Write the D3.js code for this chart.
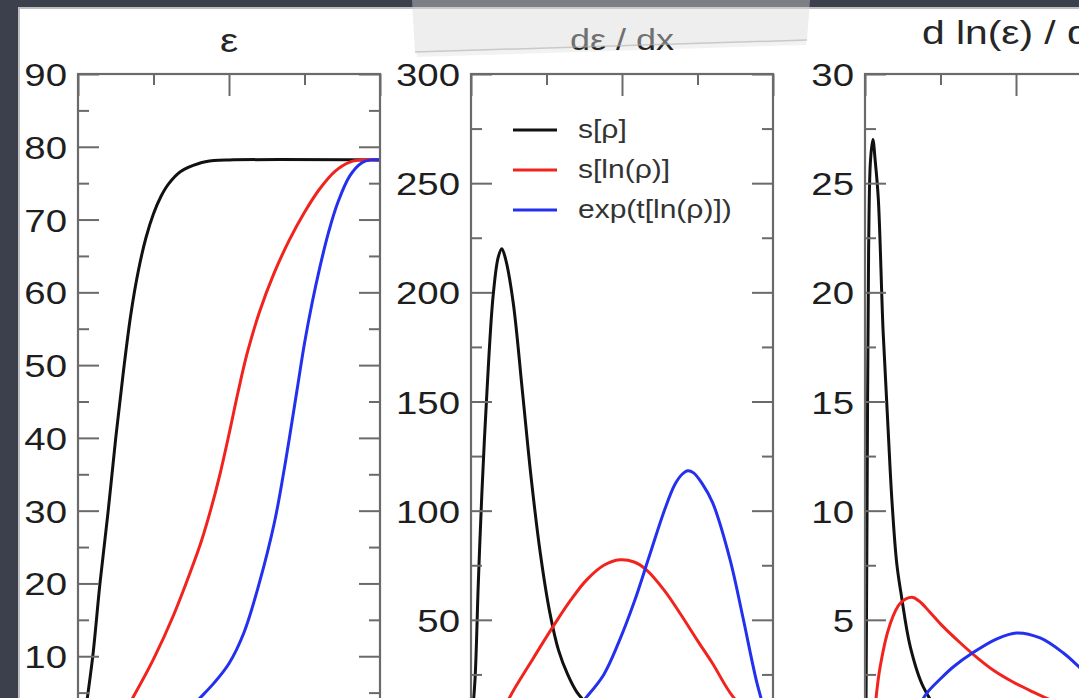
<!DOCTYPE html>
<html><head><meta charset="utf-8">
<script src="https://cdn.jsdelivr.net/npm/d3@7"></script>
<style>html,body{margin:0;padding:0;background:#3c404c;overflow:hidden}</style>
</head><body><svg id="c" width="1079" height="698"></svg>
<script>
// ---------- data ----------
const panelTitles = ["ε", "dε / dx", "d ln(ε) / dx"];
const yDomains = [[0, 90], [0, 300], [0, 30]];
const yMajorTicks = [[10,20,30,40,50,60,70,80,90],[50,100,150,200,250,300],[5,10,15,20,25,30]];
const yMinorTicks = [[5,15,25,35,45,55,65,75,85],[25,75,125,175,225,275],[2.5,7.5,12.5,17.5,22.5,27.5]];
const yTickLabels = [["10","20","30","40","50","60","70","80","90"],["50","100","150","200","250","300"],["5","10","15","20","25","30"]];
const xMajorTicks = [0, 0.5, 1];
const xMinorTicks = [0.25, 0.75];
const seriesNames = ["s[ρ]", "s[ln(ρ)]", "exp(t[ln(ρ)])"];
const seriesColors = ["#111111", "#f2231d", "#2330ee"];

// panel 1: ε
const eps_s = [[0.02,1],[0.033,4.9],[0.05,10.4],[0.073,20.1],[0.1,30],[0.125,40],[0.15,49],[0.175,57],[0.2,63],[0.225,67.5],[0.25,70.8],[0.275,73.2],[0.3,74.9],[0.34,76.6],[0.4,77.7],[0.45,78.1],[0.5,78.2],[1.0,78.2]];
const eps_sln = [[0.15,2],[0.183,4.4],[0.25,9.6],[0.317,15.7],[0.383,22.8],[0.41,26],[0.44,30.2],[0.47,35],[0.5,40.5],[0.53,46.3],[0.56,51.6],[0.6,57.2],[0.65,62.7],[0.7,67.2],[0.75,71],[0.8,74.2],[0.85,76.6],[0.9,77.9],[0.94,78.2],[1.0,78.2]];
const eps_exp = [[0.35,2],[0.407,4.4],[0.45,6.3],[0.5,9],[0.55,13.3],[0.6,20],[0.65,28.3],[0.68,35],[0.7,40],[0.725,46.5],[0.75,53],[0.775,58.5],[0.8,63.3],[0.83,68.3],[0.86,72.3],[0.9,76],[0.94,77.8],[0.97,78.2],[1.0,78.2]];
// panel 2: dε/dx
const deps_s = [[0,0],[0.013,22],[0.024,66],[0.036,108],[0.053,155],[0.073,198],[0.09,216],[0.102,220],[0.115,215],[0.14,195],[0.17,155],[0.2,114],[0.23,80],[0.26,54],[0.29,36],[0.32,25],[0.35,17],[0.38,12],[0.42,6],[0.5,2]];
const deps_sln = [[0.1,5],[0.129,14.7],[0.2,31],[0.272,47],[0.33,59],[0.383,68.3],[0.44,75],[0.493,77.5],[0.54,76.5],[0.58,73],[0.64,63.5],[0.692,53],[0.75,40.5],[0.8,30],[0.868,14.7],[0.95,4]];
const deps_exp = [[0.3,2],[0.383,14.7],[0.44,25],[0.49,40],[0.54,58],[0.59,79],[0.64,100],[0.675,112],[0.7,116.8],[0.718,118.3],[0.737,117.3],[0.765,112.5],[0.8,103.7],[0.858,77.5],[0.9,51.4],[0.947,21],[0.98,5]];
// panel 3: d ln(ε)/dx
const dln_s = [[0.003,0],[0.007,10.5],[0.012,22],[0.018,26],[0.026,27],[0.034,26],[0.044,24.3],[0.06,18.2],[0.077,13.6],[0.089,10.5],[0.105,7.6],[0.121,6.06],[0.15,3.76],[0.193,1.93],[0.25,0.8],[0.35,0.3]];
const dln_sln = [[0.03,0.5],[0.05,2.84],[0.083,4.8],[0.116,5.75],[0.155,6.03],[0.18,5.85],[0.215,5.35],[0.258,4.7],[0.315,3.95],[0.37,3.28],[0.424,2.7],[0.49,2.15],[0.556,1.7],[0.62,1.3],[0.7,0.9]];
const dln_exp = [[0.17,0.8],[0.204,1.63],[0.25,2.3],[0.292,2.84],[0.358,3.5],[0.435,4.12],[0.502,4.4],[0.58,4.17],[0.656,3.49],[0.709,2.84],[0.72,2.7]];

const panelSeries = [[eps_s, eps_sln, eps_exp],[deps_s, deps_sln, deps_exp],[dln_s, dln_sln, dln_exp]];

// ---------- layout ----------
const W = 1079, H = 698;
const panelLeft = [78, 471, 865];
const panelW = 302, plotTop = 74, plotBottom = 729;
const titleY = [52, 50, 44];
const titleSize = [34, 30, 34];
const stretch = 1.2;
const frameColor = "#6a6a6a";
const font = "'Liberation Sans', Arial, sans-serif";

const svg = d3.select("#c");
svg.append("rect").attr("x",0).attr("y",0).attr("width",W).attr("height",H).attr("fill","#3c404c");
svg.append("rect").attr("x",18).attr("y",7).attr("width",W).attr("height",H).attr("fill","#bfbfbf");
svg.append("rect").attr("x",20).attr("y",9).attr("width",W).attr("height",H).attr("fill","#ffffff");

const defs = svg.append("defs");

panelLeft.forEach((left, i) => {
  const x = d3.scaleLinear().domain([0,1]).range([left, left + panelW]);
  const y = d3.scaleLinear().domain(yDomains[i]).range([plotBottom, plotTop]);
  const g = svg.append("g");

  defs.append("clipPath").attr("id","clip"+i).append("rect")
    .attr("x", left).attr("y", plotTop).attr("width", panelW).attr("height", plotBottom - plotTop);

  const line = d3.line().x(d => x(d[0])).y(d => y(d[1])).curve(d3.curveCatmullRom.alpha(0.5));
  const lg = g.append("g").attr("clip-path", "url(#clip"+i+")");
  panelSeries[i].forEach((s, k) => {
    lg.append("path").datum(s).attr("d", line).attr("fill","none")
      .attr("stroke", seriesColors[k]).attr("stroke-width", 3).attr("stroke-linejoin","round");
  });

  const styleTicks = a => { a.select(".domain").remove(); a.selectAll(".tick line").attr("stroke", frameColor).attr("stroke-width", 2); };
  const axL = g.append("g").attr("transform", `translate(${left},0)`)
    .call(d3.axisLeft(y).tickValues(yMajorTicks[i]).tickFormat((d,j)=>yTickLabels[i][j]).tickSizeInner(-21).tickSizeOuter(0).tickPadding(11));
  styleTicks(axL);
  axL.selectAll(".tick text").attr("font-family", font).attr("font-size", 32)
    .attr("fill","#1e1e1e").attr("dy","0.36em").attr("x", -11 / stretch).attr("transform", `scale(${stretch},1)`);
  styleTicks(g.append("g").attr("transform", `translate(${left},0)`)
    .call(d3.axisLeft(y).tickValues(yMinorTicks[i]).tickFormat("").tickSizeInner(-11).tickSizeOuter(0)));
  [[yMajorTicks[i],21],[yMinorTicks[i],11]].forEach(([tv, sz]) => {
    styleTicks(g.append("g").attr("transform", `translate(${left+panelW},0)`)
      .call(d3.axisRight(y).tickValues(tv).tickFormat("").tickSizeInner(-sz).tickSizeOuter(0)));
  });
  [[xMajorTicks,22],[xMinorTicks,11]].forEach(([tv, sz]) => {
    styleTicks(g.append("g").attr("transform", `translate(0,${plotTop})`)
      .call(d3.axisTop(x).tickValues(tv).tickFormat("").tickSizeInner(-sz).tickSizeOuter(0)));
  });
  g.append("rect").attr("x", left).attr("y", plotTop).attr("width", panelW).attr("height", plotBottom - plotTop)
    .attr("fill","none").attr("stroke", frameColor).attr("stroke-width", 2.2);

  const cx = left + panelW / 2;
  g.append("text").text(panelTitles[i])
    .attr("transform", `translate(${cx},${titleY[i]}) scale(${stretch},1)`)
    .attr("text-anchor","middle").attr("font-family", font)
    .attr("font-size", titleSize[i]).attr("fill","#262626");

  if (i === 1) {
    const legY = [130, 170, 210];
    seriesNames.forEach((nm, k) => {
      g.append("line").attr("x1", 513).attr("x2", 557).attr("y1", legY[k]).attr("y2", legY[k])
        .attr("stroke", seriesColors[k]).attr("stroke-width", 3);
      g.append("text").text(nm)
        .attr("transform", `translate(578,${legY[k] + 8}) scale(${stretch},1)`)
        .attr("font-family", font).attr("font-size", 25).attr("fill","#333333");
    });
  }
});

// dark top band and translucent tape decoration
svg.append("rect").attr("x",0).attr("y",0).attr("width",W).attr("height",7).attr("fill","#3c404c");
svg.append("path").attr("d","M416,52 L806,40 L806,45 L417,57 Z").attr("fill","#000").attr("opacity",0.05);
svg.append("path").attr("d","M412,0 L810,0 L807,40 L415,52 Z").attr("fill","#d6d6d6").attr("opacity",0.42);
svg.append("path").attr("d","M415,52 L807,40").attr("stroke","#b0b0b0").attr("stroke-width",1.5).attr("opacity",0.6);
</script>
</body></html>
